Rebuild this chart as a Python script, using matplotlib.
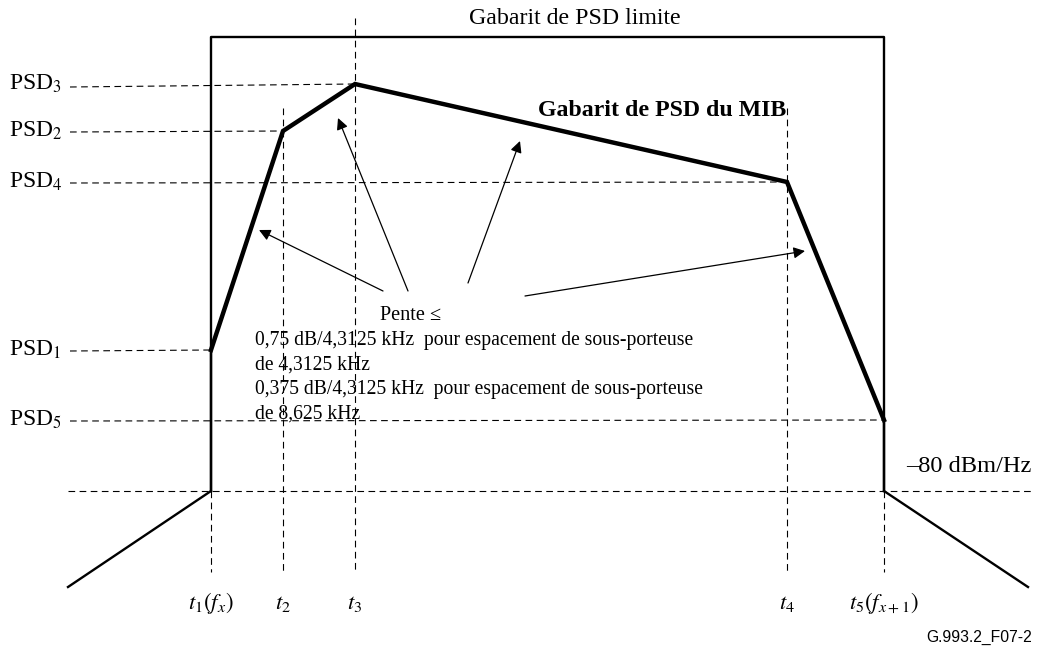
import matplotlib
matplotlib.use("Agg")
import matplotlib.pyplot as plt

# ---- data (diagram coordinates, y grows downward) ----
t_labels = [r"$t_1(f_x)$", r"$t_2$", r"$t_3$", r"$t_4$", r"$t_5(f_{x+1})$"]
t_pos = [211, 283, 355, 787, 884]
psd_labels = [r"PSD$_1$", r"PSD$_2$", r"PSD$_3$", r"PSD$_4$", r"PSD$_5$"]
psd_level = [350, 131, 84, 182, 420]
floor_level = 491
limit_top = 37
skirt_x = [68, 1028]
skirt_y = 587
slope_lines = [
    "0,75 dB/4,3125 kHz  pour espacement de sous-porteuse",
    "de 4,3125 kHz",
    "0,375 dB/4,3125 kHz  pour espacement de sous-porteuse",
    "de 8,625 kHz",
]

plt.rcParams["font.family"] = ["Liberation Serif", "DejaVu Serif"]
plt.rcParams["mathtext.fontset"] = "stix"

fig = plt.figure(figsize=(10.42, 6.48), dpi=100)
ax = fig.add_axes([0, 0, 1, 1])
ax.set_xlim(0, 1042)
ax.set_ylim(648, 0)
ax.axis("off")

fs_small = 14.1
fs_big = 17.2
dash = dict(color="black", lw=0.8, ls=(0, (6, 4)))

# limit mask box
ax.plot([t_pos[0], t_pos[0], t_pos[4], t_pos[4]],
        [floor_level, limit_top, limit_top, floor_level], color="black", lw=1.7)
# skirts
ax.plot([skirt_x[0], t_pos[0]], [skirt_y, floor_level], color="black", lw=1.7)
ax.plot([t_pos[4], skirt_x[1]], [floor_level, skirt_y], color="black", lw=1.7)
ax.text(575, 18, "Gabarit de PSD limite", fontsize=fs_big, ha="center", va="center")

# -80 dBm/Hz floor
ax.plot([68, 1032], [floor_level, floor_level], **dash)
ax.text(1032, 467, "\u201380 dBm/Hz", fontsize=17.6, ha="right", va="center")

# horizontal dashed PSD reference lines
for lab, lev, x in zip(psd_labels, psd_level, t_pos):
    ax.plot([70, x], [lev + (3 if lab.endswith("3$") else 1), lev], **dash)
    ax.text(9, lev, lab, fontsize=17, ha="left", va="center")

# vertical dashed time lines
v_top = {0: floor_level, 1: 108, 2: 18, 3: 108, 4: floor_level}
for i, x in enumerate(t_pos):
    ax.plot([x, x], [v_top[i], 572], **dash)
    ax.text(x, 603, t_labels[i], fontsize=16.5, ha="center", va="center")

# MIB mask
ax.plot(t_pos, psd_level, color="black", lw=3.2, solid_joinstyle="miter")
ax.plot([t_pos[0], t_pos[0]], [psd_level[0], floor_level], color="black", lw=1.7)
ax.plot([t_pos[4], t_pos[4]], [psd_level[4], floor_level], color="black", lw=1.7)
ax.text(538, 110, "Gabarit de PSD du MIB", fontsize=fs_big, fontweight="bold",
        ha="left", va="center")

# arrows
arrows = [((383, 291), (259, 230)), ((408, 291), (338, 118)),
          ((468, 283), (520, 141)), ((525, 296), (805, 251))]
for (x0, y0), (x1, y1) in arrows:
    ax.annotate("", xy=(x1, y1), xytext=(x0, y0),
                arrowprops=dict(arrowstyle="-|>", color="black", lw=0.9,
                                mutation_scale=17, shrinkA=0, shrinkB=0))

ax.text(380, 316, "Pente \u2264", fontsize=14.6, ha="left", va="center")
for k, s in enumerate(slope_lines):
    ax.text(255, 340 + k * 24.6, s, fontsize=fs_small, ha="left", va="center")

ax.text(1032, 637, "G.993.2_F07-2", fontsize=11.3, ha="right", va="center",
        family=["Liberation Sans", "DejaVu Sans"])

fig.savefig("out.png", dpi=100)
